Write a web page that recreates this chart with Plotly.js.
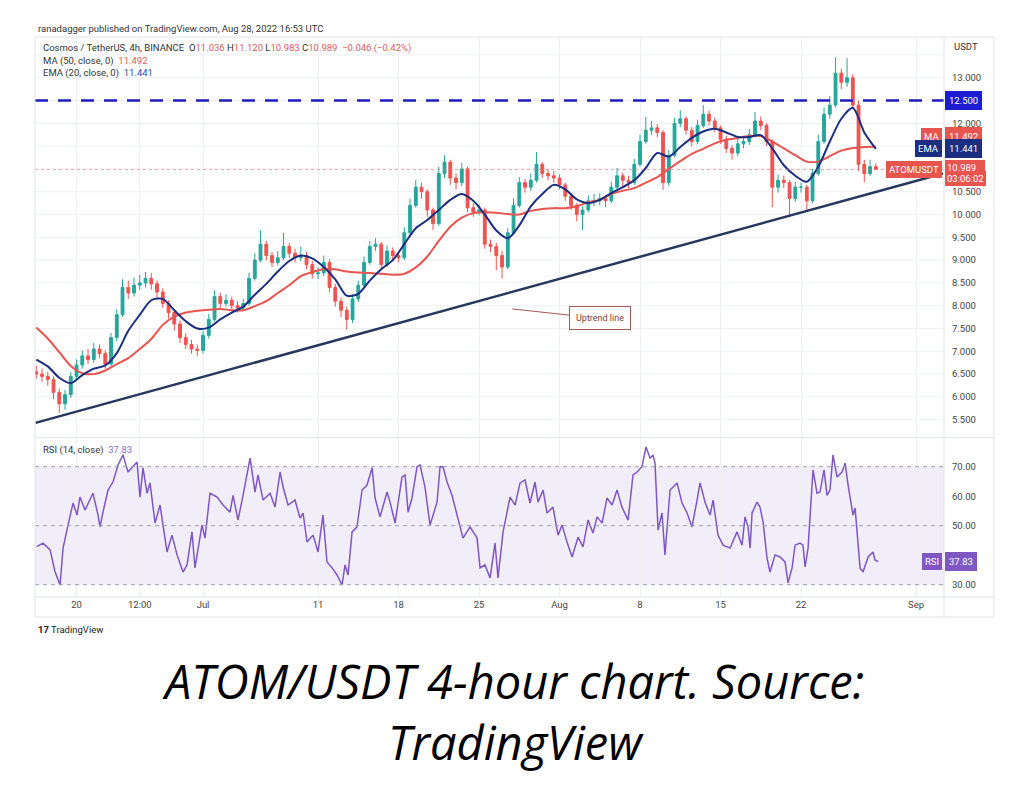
<!DOCTYPE html>
<html><head><meta charset="utf-8">
<script src="https://cdn.plot.ly/plotly-3.0.1.min.js"></script>
<style>html,body{margin:0;padding:0;background:#fff;}#chart{width:1024px;height:805px;}</style>
</head><body><div id="chart"></div>
<script>
// ---------- DATA (12h candles) ----------
const candleStart = '2022-06-16 12:00';
const candleStepHours = 12;
const opens = [6.55,6.50,6.45,6.38,6.10,5.85,6.05,6.45,6.70,6.90, 6.82,7.05,6.95,6.72,7.30,7.80,8.40,8.28,8.45,8.50, 8.60,8.48,8.30,8.05,7.85,7.60,7.30,7.15,7.05,7.02, 7.35,7.70,8.20,8.05,8.12,8.00,7.95,8.05,8.60,9.00, 9.35,9.10,8.95,9.05,9.30,9.15,9.05,9.10,8.90,8.70, 8.72,8.95,8.40,8.10,7.90,7.70,8.15,8.45,8.95,9.30, 9.35,8.90,9.20,9.10,9.05,9.60,10.20,10.60,10.50,10.10, 9.80,10.90,11.15,10.80,10.70,11.00,10.15,10.05,10.10,9.35, 9.30,9.10,8.85,9.60,10.20,10.70,10.60,10.75,11.10,10.90, 10.85,10.80,10.65,10.40,10.20,10.00,10.10,10.30,10.30,10.35, 10.30,10.60,10.85,10.75,10.70,11.10,11.60,11.85,11.90,11.80, 10.70,11.30,12.00,12.10,11.85,11.60,11.95,12.20,12.05,11.90, 11.65,11.45,11.35,11.55,11.60,11.75,12.05,11.95,11.60,10.60, 10.75,10.70,10.35,10.60,10.60,10.30,10.90,11.60,12.20,12.40, 13.10,12.90,13.00,12.40,11.10,10.90,11.05];
const highs = [6.68,6.62,6.55,6.45,6.18,6.15,6.55,6.82,7.02,7.05, 7.18,7.15,7.02,7.40,7.92,8.58,8.55,8.62,8.68,8.74, 8.72,8.55,8.38,8.12,7.92,7.68,7.40,7.25,7.15,7.45, 7.82,8.34,8.28,8.25,8.20,8.10,8.15,8.72,9.15,9.65, 9.42,9.18,9.20,9.60,9.38,9.25,9.30,9.18,8.98,8.85, 9.10,9.02,8.48,8.18,7.98,8.25,8.55,9.08,9.42,9.48, 9.40,9.32,9.28,9.18,9.72,10.35,10.76,10.70,10.55,10.15, 11.05,11.30,11.20,10.90,11.13,11.05,10.25,10.22,10.15,9.45, 9.38,9.20,9.70,10.35,10.82,10.78,10.90,11.37,11.15,11.00, 10.95,10.88,10.70,10.48,10.25,10.18,10.42,10.45,10.47,10.42, 10.72,11.02,10.92,10.85,11.22,11.75,12.14,12.05,11.98,11.85, 11.42,12.12,12.29,12.15,11.92,12.08,12.40,12.28,12.12,11.95, 11.72,11.52,11.68,11.72,11.88,12.25,12.15,12.00,11.65,10.88, 10.85,10.75,10.72,10.70,10.65,11.00,11.75,12.35,12.60,13.45, 13.20,13.43,13.08,12.50,11.20,11.20,11.12];
const lows = [6.40,6.33,6.25,5.95,5.65,5.72,5.98,6.38,6.62,6.72, 6.75,6.85,6.62,6.68,7.22,7.75,8.15,8.20,8.35,8.40, 8.35,8.18,7.95,7.72,7.45,7.18,7.05,6.95,6.90,6.95, 7.28,7.65,7.95,7.98,7.90,7.85,7.88,8.00,8.55,8.95, 9.00,8.85,8.88,9.00,9.05,8.95,8.98,8.80,8.60,8.58, 8.65,8.30,7.98,7.75,7.47,7.62,8.08,8.40,8.90,9.20, 8.80,8.85,9.00,8.95,9.00,9.55,10.15,10.35,9.95,9.66, 9.75,10.80,10.65,10.55,10.62,10.05,9.95,9.98,9.25,9.18, 8.78,8.60,8.80,9.55,10.15,10.48,10.52,10.70,10.80,10.75, 10.70,10.55,10.30,10.10,9.85,9.66,10.05,10.18,10.20,10.16, 10.25,10.55,10.62,10.58,10.65,11.05,11.55,11.75,11.70,10.54, 10.62,11.25,11.92,11.75,11.50,11.55,11.90,11.95,11.80,11.55, 11.35,11.20,11.28,11.45,11.52,11.70,11.85,11.50,10.16,10.48, 10.58,9.95,10.28,10.48,10.10,10.25,10.85,11.55,12.10,12.35, 12.75,12.80,12.30,10.95,10.71,10.85,10.98];
const closes = [6.50,6.45,6.38,6.10,5.85,6.05,6.45,6.70,6.90,6.82, 7.05,6.95,6.72,7.30,7.80,8.40,8.28,8.45,8.50,8.60, 8.48,8.30,8.05,7.85,7.60,7.30,7.15,7.05,7.02,7.35, 7.70,8.20,8.05,8.12,8.00,7.95,8.05,8.60,9.00,9.35, 9.10,8.95,9.05,9.30,9.15,9.05,9.10,8.90,8.70,8.72, 8.95,8.40,8.10,7.90,7.70,8.15,8.45,8.95,9.30,9.35, 8.90,9.20,9.10,9.05,9.60,10.20,10.60,10.50,10.10,9.80, 10.90,11.15,10.80,10.70,11.00,10.15,10.05,10.10,9.35,9.30, 9.10,8.85,9.60,10.20,10.70,10.60,10.75,11.10,10.90,10.85, 10.80,10.65,10.40,10.20,10.00,10.10,10.30,10.30,10.35,10.30, 10.60,10.85,10.75,10.70,11.10,11.60,11.85,11.90,11.80,10.70, 11.30,12.00,12.10,11.85,11.60,11.95,12.20,12.05,11.90,11.65, 11.45,11.35,11.55,11.60,11.75,12.05,11.95,11.60,10.60,10.75, 10.70,10.35,10.60,10.60,10.30,10.90,11.60,12.20,12.40,13.10, 12.90,13.00,12.40,11.10,10.90,11.05,10.989];

// MA(50) and EMA(20), read daily at 12:00
const lineStart = '2022-06-16 12:00';
const ma50 = [7.52,7.28,6.98,6.68,6.52,6.50,6.58,6.72,6.85,7.05, 7.27,7.58,7.76,7.85,7.89,7.91,7.93,7.90,7.90,7.99, 8.10,8.28,8.45,8.65,8.74,8.80,8.80,8.75,8.73,8.72, 8.70,8.68,8.70,8.84,9.08,9.42,9.73,9.93,10.03,10.05, 10.04,10.01,10.00,10.08,10.12,10.14,10.14,10.18,10.27,10.32, 10.45,10.52,10.58,10.70,10.82,11.00,11.17,11.33,11.44,11.56, 11.64,11.68,11.72,11.72,11.60,11.45,11.30,11.16,11.16,11.28, 11.40,11.46,11.48,11.492];
const ema20 = [6.82,6.67,6.42,6.30,6.48,6.62,6.69,6.96,7.45,7.80, 8.12,8.15,7.90,7.66,7.50,7.52,7.70,7.85,7.98,8.24, 8.48,8.75,8.98,9.10,9.04,8.85,8.58,8.22,8.26,8.55, 8.80,9.00,9.35,9.70,9.88,10.10,10.32,10.45,10.30,10.00, 9.65,9.48,9.76,10.18,10.45,10.65,10.55,10.33,10.25,10.32, 10.47,10.60,10.75,11.02,11.35,11.27,11.48,11.68,11.82,11.88, 11.80,11.70,11.70,11.74,11.45,11.08,10.85,10.72,11.05,11.60, 12.10,12.34,11.80,11.441];

// RSI(14): day offsets from 2022-07-01 and values
const rsiDays = [-14.46,-13.91,-13.3,-12.87,-12.43,-12.17,-11.74,-11.3,-10.96,-10.7, -10.26,-9.83,-9.57,-9.13,-8.96,-8.7,-8.26,-7.83,-7.39,-6.96, -6.52,-5.74,-5.48,-5.22,-4.87,-4.61,-4.17,-3.74,-3.13,-2.7, -2.26,-1.74,-1.39,-0.96,-0.7,-0.09,0.17,0.61,1.22,1.74, 2.35,2.61,3.04,3.48,4.09,4.52,4.78,5.22,5.83,6.26, 6.7,6.96,7.39,8.0,8.43,8.7,9.04,9.57,10.0,10.43, 10.78,11.22,11.65,12.09,12.35,12.61,12.96,13.39,13.83,14.26, 14.7,14.96,15.39,16.0,16.26,16.7,17.3,17.57,17.83,18.17, 18.61,18.87,19.3,19.74,20.35,20.61,20.87,21.22,21.65,22.09, 22.61,23.22,23.83,24.09,24.52,24.96,25.39,25.65,26.09,26.7, 27.13,27.57,28.0,28.43,28.87,29.13,29.57,29.91,30.43,30.87, 31.22,31.65,32.09,32.61,33.04,33.48,33.91,34.26,34.7,35.13, 35.57,36.0,36.43,36.96,37.39,37.74,38.17,38.52,38.87,39.13, 39.3,39.57,39.91,40.17,40.61,41.22,41.65,42.09,42.52,42.96, 43.22,43.65,44.09,44.35,44.78,45.22,45.83,46.43,46.87,47.13, 47.39,47.57,47.74,48.17,48.43,48.7,49.04,49.3,49.74,50.17, 50.61,50.87,51.22,51.48,51.91,52.17,52.35,52.61,53.04,53.39, 53.65,54.0,54.26,54.52,54.78,55.13,55.57,55.83,56.09,56.52, 56.7,57.13,57.39,57.83,58.26,58.43,58.7];
const rsiValues = [42.9,44.1,41.8,34.4,29.9,42.4,50.2,57.7,53.6,59.7, 55.3,58.7,61,53.6,49.6,54.6,62.1,64.8,70.6,74, 68.2,71.6,59.7,69.6,61,64.5,50.9,57,41.1,46.8, 40.1,34.3,36.7,47.9,35.7,50.2,45.8,61,59.7,57, 54.6,60.3,51.9,60.3,72.9,61.4,67.2,58.7,61,56.3, 68.2,63.1,57,58.7,52.6,54.3,44.5,46.8,41.1,53.6, 37.7,35.7,33.3,29.9,36.7,33.3,47.9,49.6,62.1,63.8, 69.6,59.4,53,61.4,58,50.9,66.5,67.2,54.6,59.4, 70,70.6,63.1,50.2,58,70,70,64.8,60.3,53.6, 45.8,49.6,45.8,35.7,36.7,32.3,44.1,32.3,47.9,59.7, 57,64.5,65.5,57.7,64.8,58,62.1,54.3,56.3,46.8, 50.2,44.5,39.4,46.1,42.8,51.9,47.5,53,50.9,59.4, 57,62.1,56.3,51.9,67.2,68.2,70,76.7,72.9,74, 71.2,48.5,54.3,40.1,62.1,64.5,57.7,54.3,49.6,58.7, 64.5,58,53.6,58.7,46.8,43.4,42.4,47.9,43.4,53, 49.6,42.4,54.3,58,56.3,51.2,39.1,34.3,40.1,39.4, 37.7,30.6,35.7,43.4,44.1,43.4,36,42.4,68.9,61, 61.4,68.9,60.3,62.1,74,66.5,68.2,71.2,63.8,53.6, 56,35.7,34.3,39.4,41.1,38.4,37.83];

// Drawings
const trendTimes = ['2022-06-16 10:20', '2022-09-03 08:20'];
const trendPrices = [5.43, 10.90];
const resistance = 12.5;
const rsiLevels = [70, 50, 30];

// Header values
const lastO = 11.036, lastH = 11.120, lastL = 10.983, lastC = 10.989;
const lastChange = '−0.046', lastPct = '(−0.42%)';
const maLast = 11.492, emaLast = 11.441, rsiLast = 37.83;
const countdown = '03:06:02';

// Axis ticks (labels hidden under the scale tags are left out, as on the reference)
const xTickVals = ['2022-06-20','2022-06-25 12:00','2022-07-01','2022-07-11','2022-07-18','2022-07-25','2022-08-01','2022-08-08','2022-08-15','2022-08-22','2022-09-01'];
const xTickText = ['20','12:00','Jul','11','18','25','Aug','8','15','22','Sep'];
const priceTicks = [5.5,6,6.5,7,7.5,8,8.5,9,9.5,10,10.5,12,13];
const priceGrid = [5.5,6,6.5,7,7.5,8,8.5,9,9.5,10,10.5,11,11.5,12,12.5,13,13.5];
const rsiTicks = [30,50,60,70];

// ---------- helpers ----------
function fmt(ms){ return new Date(ms).toISOString().slice(0,16).replace('T',' '); }
const H = 3600e3, D = 86400e3;
const t0 = Date.parse(candleStart.replace(' ','T') + ':00Z');
const l0 = Date.parse(lineStart.replace(' ','T') + ':00Z');
const jul1 = Date.UTC(2022,6,1);
const candleTimes = closes.map((_,i)=>fmt(t0 + i*candleStepHours*H));
const lineTimes = ma50.map((_,i)=>fmt(l0 + i*D));
const rsiTimes = rsiDays.map(d=>fmt(jul1 + d*D));

const FONT = 'Roboto, "Liberation Sans", Arial, sans-serif';
const px2x = p => (p-35)/909;
const px2y = p => (597-p)/560;
const UP='#26a69a', DOWN='#ef5350', MAC='#e8544e', EMAC='#1c2e80', RSIC='#7e57c2';
const GRID='#eef0f4', BORDER='#e0e3eb';

const traces = [
  {type:'candlestick', x:candleTimes, open:opens, high:highs, low:lows, close:closes,
   xaxis:'x', yaxis:'y',
   increasing:{line:{color:UP,width:1}, fillcolor:UP},
   decreasing:{line:{color:DOWN,width:1}, fillcolor:DOWN}, hoverinfo:'skip'},
  {type:'scatter', mode:'lines', x:lineTimes, y:ma50, xaxis:'x', yaxis:'y',
   line:{color:MAC, width:2, shape:'spline', smoothing:0.8}, hoverinfo:'skip'},
  {type:'scatter', mode:'lines', x:lineTimes, y:ema20, xaxis:'x', yaxis:'y',
   line:{color:EMAC, width:2, shape:'spline', smoothing:0.8}, hoverinfo:'skip'},
  {type:'scatter', mode:'lines', x:trendTimes, y:trendPrices, xaxis:'x', yaxis:'y',
   line:{color:'#26395c', width:2.5}, hoverinfo:'skip'},
  {type:'scatter', mode:'lines', x:rsiTimes, y:rsiValues, xaxis:'x2', yaxis:'y2',
   line:{color:RSIC, width:1.5}, hoverinfo:'skip'}
];

const shapes = [
  ...priceGrid.map(v=>({type:'line', xref:'paper', yref:'y', x0:0, x1:1, y0:v, y1:v, line:{color:GRID, width:1}, layer:'below'})),
  {type:'rect', xref:'paper', yref:'y2', x0:0, x1:1, y0:rsiLevels[2], y1:rsiLevels[0], fillcolor:'rgba(126,87,194,0.1)', line:{width:0}, layer:'below'},
  ...rsiLevels.map(v=>({type:'line', xref:'paper', yref:'y2', x0:0, x1:1, y0:v, y1:v, line:{color:'#9aa0ab', width:1, dash:'4px,4px'}})),
  {type:'line', xref:'paper', yref:'y', x0:0, x1:1, y0:resistance, y1:resistance, line:{color:'#1c1cc0', width:2.5, dash:'13px,10px'}},
  {type:'line', xref:'paper', yref:'y', x0:0, x1:1, y0:lastC, y1:lastC, line:{color:'rgba(229,115,115,0.6)', width:1, dash:'dot'}},
  {type:'rect', xref:'paper', yref:'paper', x0:0, x1:px2x(994), y0:px2y(617), y1:1, line:{color:BORDER, width:1}},
  {type:'line', xref:'paper', yref:'paper', x0:1, x1:1, y0:px2y(617), y1:1, line:{color:BORDER, width:1}},
  {type:'line', xref:'paper', yref:'paper', x0:0, x1:px2x(994), y0:px2y(437.5), y1:px2y(437.5), line:{color:BORDER, width:1}},
  {type:'line', xref:'paper', yref:'paper', x0:0, x1:px2x(994), y0:0, y1:0, line:{color:BORDER, width:1}}
];

function tagL(text, y, yref, color, yshift){
  return {xref:'paper', x:1, xanchor:'right', xshift:-2, yref, y, yanchor:'middle', yshift:yshift||0,
    text, showarrow:false, bgcolor:color, bordercolor:color, borderpad:2, font:{size:9.5, color:'#fff', family:FONT}};
}
function tagR(text, y, yref, color, yshift, pad){
  return {xref:'paper', x:1, xanchor:'left', xshift:1, yref, y, yanchor:'middle', yshift:yshift||0,
    text, showarrow:false, bgcolor:color, bordercolor:color, borderpad:(pad===undefined?3:pad), font:{size:9.5, color:'#fff', family:FONT}};
}
const red = v => `<span style="color:#e0605a">${v}</span>`;
const annotations = [
  {xref:'paper', yref:'paper', x:px2x(36), y:px2y(28), xanchor:'left', yanchor:'middle', showarrow:false,
   text:'ranadagger published on TradingView.com, Aug 28, 2022 16:53 UTC', font:{size:9.5, color:'#333'}},
  {xref:'paper', yref:'paper', x:px2x(41), y:px2y(48), xanchor:'left', yanchor:'middle', showarrow:false,
   text:`Cosmos / TetherUS, 4h, BINANCE&nbsp;&nbsp;O${red(lastO.toFixed(3))} H${red(lastH.toFixed(3))} L${red(lastL.toFixed(3))} C${red(lastC.toFixed(3))}&nbsp;&nbsp;${red(lastChange+' '+lastPct)}`,
   font:{size:9.5, color:'#333'}},
  {xref:'paper', yref:'paper', x:px2x(41), y:px2y(61), xanchor:'left', yanchor:'middle', showarrow:false,
   text:`MA (50, close, 0)&nbsp;&nbsp;${red(maLast.toFixed(3))}`, font:{size:9.5, color:'#333'}},
  {xref:'paper', yref:'paper', x:px2x(41), y:px2y(73), xanchor:'left', yanchor:'middle', showarrow:false,
   text:`EMA (20, close, 0)&nbsp;&nbsp;<span style="color:#2e4db0">${emaLast.toFixed(3)}</span>`, font:{size:9.5, color:'#333'}},
  {xref:'paper', yref:'paper', x:px2x(41), y:px2y(450), xanchor:'left', yanchor:'middle', showarrow:false,
   text:`RSI (14, close)&nbsp;&nbsp;<span style="color:#8a6fc4">${rsiLast.toFixed(2)}</span>`, font:{size:9.5, color:'#333'}},
  {xref:'paper', yref:'paper', x:px2x(952), y:px2y(46), xanchor:'left', yanchor:'middle', showarrow:false,
   text:'USDT', font:{size:9.5, color:'#333'}},
  // right-scale tags
  tagR(resistance.toFixed(3), resistance, 'y', '#1c1cd0'),
  tagL('MA', maLast, 'y', MAC, 10),
  tagR(maLast.toFixed(3), maLast, 'y', MAC, 10),
  tagL('EMA', emaLast, 'y', EMAC),
  tagR(emaLast.toFixed(3), emaLast, 'y', EMAC),
  tagL('ATOMUSDT', lastC, 'y', '#e8544e'),
  tagR(`${lastC.toFixed(3)}&nbsp;&nbsp;&nbsp;`, lastC, 'y', '#e8544e', 2, 1),
  tagR(countdown, lastC, 'y', '#e8544e', -9, 1),
  tagL('RSI', rsiLast, 'y2', RSIC),
  tagR(rsiLast.toFixed(2), rsiLast, 'y2', RSIC),
  // callout
  {xref:'x', yref:'y', x:'2022-07-27 21:00', y:7.93, axref:'x', ayref:'y', ax:'2022-08-04 12:30', ay:7.72,
   text:'Uptrend line', showarrow:true, arrowhead:0, arrowwidth:1, arrowcolor:'#a85a55',
   bordercolor:'#a85a55', borderwidth:1, borderpad:6, bgcolor:'#fff', font:{size:9, color:'#8c3b36'}},
  // logo
  {xref:'paper', yref:'paper', x:px2x(36), y:px2y(629), xanchor:'left', yanchor:'middle', showarrow:false,
   text:'<b>17</b> TradingView', font:{size:9.5, color:'#222'}},
  // caption
  {xref:'paper', yref:'paper', x:px2x(513), y:px2y(681), xanchor:'center', yanchor:'middle', showarrow:false,
   text:'ATOM/USDT 4-hour chart. Source:', font:{size:47, color:'#000', family:'"Open Sans", sans-serif', style:'italic'}},
  {xref:'paper', yref:'paper', x:px2x(516), y:px2y(742), xanchor:'center', yanchor:'middle', showarrow:false,
   text:'TradingView', font:{size:47, color:'#000', family:'"Open Sans", sans-serif', style:'italic'}}
];

const layout = {
  width:1024, height:805, margin:{l:35, r:80, t:37, b:208},
  paper_bgcolor:'#fff', plot_bgcolor:'#fff', showlegend:false, hovermode:false,
  font:{family:FONT, size:9.5, color:'#333'},
  xaxis:{type:'date', domain:[0,1], anchor:'y', range:['2022-06-16 09:20','2022-09-03 10:20'],
    tickvals:xTickVals, ticktext:xTickText, showticklabels:false, showgrid:true, gridcolor:GRID,
    zeroline:false, showline:false, rangeslider:{visible:false}, fixedrange:true},
  xaxis2:{type:'date', domain:[0,1], anchor:'y2', matches:'x', range:['2022-06-16 09:20','2022-09-03 10:20'],
    tickvals:xTickVals, ticktext:xTickText, showgrid:true, gridcolor:GRID, zeroline:false, showline:false,
    ticks:'', tickfont:{size:9.5, color:'#444'}, rangeslider:{visible:false}},
  yaxis:{domain:[160/560,1], anchor:'x', side:'right', range:[5.121,13.893], tickvals:priceTicks,
    tickformat:'.3f', showgrid:false, zeroline:false, showline:false, ticks:'',
    ticklabelstandoff:7, tickfont:{size:9.5, color:'#444'}},
  yaxis2:{domain:[0,159/560], anchor:'x2', side:'right', range:[25.83,79.73], tickvals:rsiTicks,
    tickformat:'.2f', showgrid:false, zeroline:false, showline:false, ticks:'',
    ticklabelstandoff:7, tickfont:{size:9.5, color:'#444'}},
  shapes, annotations
};

Plotly.newPlot('chart', traces, layout, {staticPlot:true, displayModeBar:false});
</script></body></html>
